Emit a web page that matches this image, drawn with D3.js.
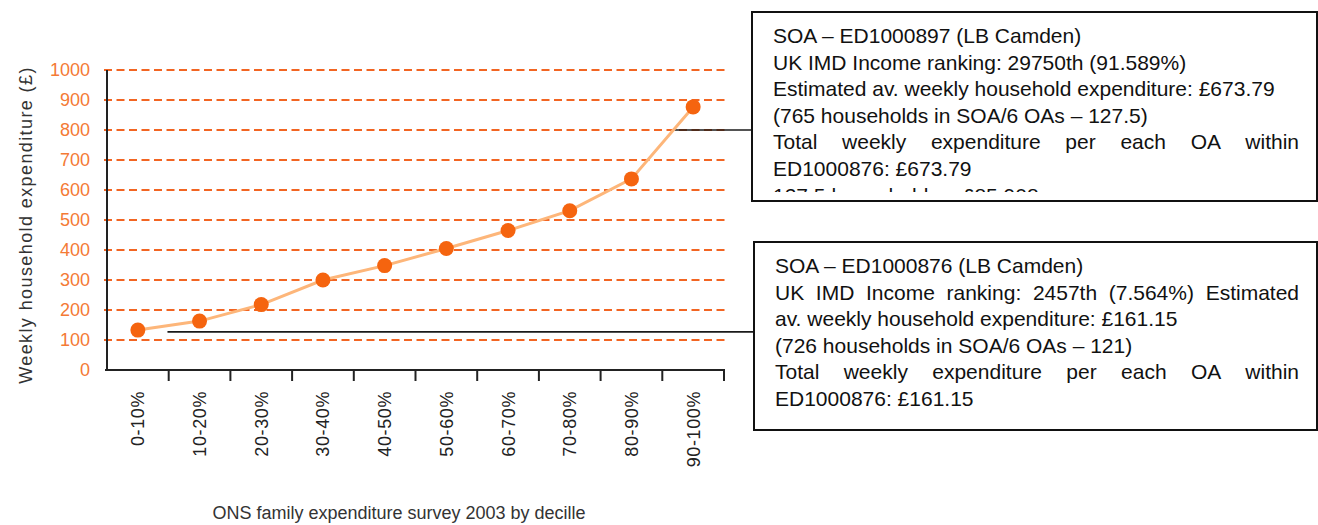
<!DOCTYPE html>
<html>
<head>
<meta charset="utf-8">
<script src="https://cdn.jsdelivr.net/npm/d3@7"></script>
<style>
  html, body { margin: 0; padding: 0; background: #fff; }
  svg { display: block; font-family: "Liberation Sans", Arial, Helvetica, sans-serif; }
</style>
</head>
<body>
<svg id="chart" width="1318" height="525"></svg>
<script>
// Weekly household expenditure by income decile (ONS FES 2003)
const deciles = ["0-10%", "10-20%", "20-30%", "30-40%", "40-50%",
                 "50-60%", "60-70%", "70-80%", "80-90%", "90-100%"];
const expenditure = [133, 163, 218, 300, 348, 405, 465, 531, 637, 877];
const yTickValues = [0, 100, 200, 300, 400, 500, 600, 700, 800, 900, 1000];

const yTitle = "Weekly household expenditure (\u00a3)";
const xTitle = "ONS family expenditure survey 2003 by decille";

// Callout notes for two SOAs
const upperNoteLines = [
  "SOA \u2013 ED1000897 (LB Camden)",
  "UK IMD Income ranking: 29750th (91.589%)",
  "Estimated av. weekly household expenditure: \u00a3673.79",
  "(765 households in SOA/6 OAs \u2013 127.5)",
  "Total weekly expenditure per each OA within",
  "ED1000876: \u00a3673.79",
  "127.5 households = \u00a385,908"
];
const upperNoteJustify = [false, false, false, false, true, false, false];

const lowerNoteLines = [
  "SOA \u2013 ED1000876 (LB Camden)",
  "UK IMD Income ranking: 2457th (7.564%) Estimated",
  "av. weekly household expenditure: \u00a3161.15",
  "(726 households in SOA/6 OAs \u2013 121)",
  "Total weekly expenditure per each OA within",
  "ED1000876: \u00a3161.15"
];
const lowerNoteJustify = [false, true, false, false, true, false];

// Leader lines: start position (in deciles from the first centre) and level
const leaderFrom = [8.7, 0.48];
const leaderLevel = [800, 127];

// ---- layout ----
const W = 1318, H = 525;
const plot = { left: 107, right: 724, top: 70, bottom: 370 };
const orange = "#f26522";
const svg = d3.select("#chart");
svg.append("rect").attr("width", W).attr("height", H).attr("fill", "#fff");

const x = d3.scaleBand().domain(deciles).range([plot.left, plot.right]).padding(0);
const xc = d => x(d) + x.bandwidth() / 2;
const y = d3.scaleLinear().domain([0, 1000]).range([plot.bottom, plot.top]);

// dashed gridlines
svg.append("g").selectAll("line")
  .data(yTickValues.filter(v => v > 0))
  .join("line")
  .attr("x1", plot.left - 3).attr("x2", plot.right + 2)
  .attr("y1", d => y(d)).attr("y2", d => y(d))
  .attr("stroke", orange).attr("stroke-width", 2)
  .attr("stroke-dasharray", "8,4.5");

// y axis labels
const yAxis = svg.append("g")
  .attr("transform", `translate(${plot.left},0)`)
  .call(d3.axisLeft(y).tickValues(yTickValues).tickFormat(d3.format("d"))
    .tickSize(0).tickPadding(17));
yAxis.select(".domain").remove();
yAxis.selectAll("text")
  .attr("fill", "#f47a35").attr("font-size", 18)
  .style("font-family", "\"Liberation Sans\", Arial, sans-serif");

// x axis labels (rotated)
const xAxis = svg.append("g")
  .attr("transform", `translate(0,${plot.bottom})`)
  .call(d3.axisBottom(x).tickSize(0));
xAxis.select(".domain").remove();
xAxis.selectAll("text")
  .attr("transform", "rotate(-90)")
  .attr("text-anchor", "end")
  .attr("x", -21).attr("y", 0).attr("dy", "0.36em")
  .attr("fill", "#222").attr("font-size", 18).attr("letter-spacing", 0.6)
  .style("font-family", "\"Liberation Sans\", Arial, sans-serif");

// tick marks at band boundaries
const boundaries = deciles.slice(1).map(d => x(d)).concat([plot.right]);
svg.append("g").selectAll("line")
  .data(boundaries).join("line")
  .attr("x1", d => d).attr("x2", d => d)
  .attr("y1", plot.bottom).attr("y2", plot.bottom + 11)
  .attr("stroke", "#222").attr("stroke-width", 2);

// axis lines
svg.append("line")
  .attr("x1", plot.left).attr("x2", plot.left)
  .attr("y1", plot.top).attr("y2", plot.bottom + 1)
  .attr("stroke", "#222").attr("stroke-width", 2);
svg.append("line")
  .attr("x1", plot.left - 2).attr("x2", plot.right + 1)
  .attr("y1", plot.bottom).attr("y2", plot.bottom)
  .attr("stroke", "#222").attr("stroke-width", 2);

// axis titles
svg.append("text")
  .attr("transform", "translate(26,225) rotate(-90)")
  .attr("text-anchor", "middle").attr("dy", "0.35em")
  .attr("font-size", 18).attr("letter-spacing", 1.4)
  .attr("fill", "#333").text(yTitle);
svg.append("text")
  .attr("x", 399).attr("y", 519)
  .attr("text-anchor", "middle")
  .attr("font-size", 18).attr("fill", "#333").text(xTitle);

// note boxes
const boxes = [
  { x: 752, y: 12, w: 565, h: 189, clip: 180, tx: 773, base: 43, lines: upperNoteLines, justify: upperNoteJustify },
  { x: 754, y: 242, w: 563, h: 188, clip: 188, tx: 775, base: 273, lines: lowerNoteLines, justify: lowerNoteJustify }
];
const lineGap = 26.6, rightEdge = 1299;

// leader lines (under the series)
const step = x.step();
leaderFrom.forEach((f, i) => {
  svg.append("line")
    .attr("x1", xc(deciles[0]) + f * step).attr("x2", boxes[i].x)
    .attr("y1", y(leaderLevel[i])).attr("y2", y(leaderLevel[i]))
    .attr("stroke", "#1a1a1a").attr("stroke-width", 1.6);
});

// series line and points
svg.append("path")
  .datum(expenditure)
  .attr("fill", "none").attr("stroke", "#fdb67a").attr("stroke-width", 3)
  .attr("d", d3.line().x((d, i) => xc(deciles[i])).y(d => y(d)));
svg.append("g").selectAll("circle")
  .data(expenditure).join("circle")
  .attr("cx", (d, i) => xc(deciles[i])).attr("cy", d => y(d))
  .attr("r", 7.5).attr("fill", "#f5640f");

boxes.forEach((b, bi) => {
  const id = "noteclip" + bi;
  svg.append("clipPath").attr("id", id)
    .append("rect").attr("x", b.x).attr("y", b.y).attr("width", b.w).attr("height", b.clip);
  svg.append("rect")
    .attr("x", b.x).attr("y", b.y).attr("width", b.w).attr("height", b.h)
    .attr("fill", "#fff").attr("stroke", "#111").attr("stroke-width", 2);
  const g = svg.append("g").attr("clip-path", `url(#${id})`)
    .attr("font-size", 21).attr("fill", "#111");
  b.lines.forEach((line, li) => {
    const yy = b.base + li * lineGap;
    if (!b.justify[li]) {
      g.append("text").attr("x", b.tx).attr("y", yy).text(line);
    } else {
      const words = line.split(" ");
      const t = g.append("text").attr("y", yy);
      const spans = words.map(w => t.append("tspan").text(w));
      const widths = spans.map(s => s.node().getComputedTextLength());
      const total = d3.sum(widths);
      const gap = (rightEdge - b.tx - total) / (words.length - 1);
      let cx = b.tx;
      spans.forEach((s, k) => { s.attr("x", cx); cx += widths[k] + gap; });
    }
  });
});
</script>
</body>
</html>
